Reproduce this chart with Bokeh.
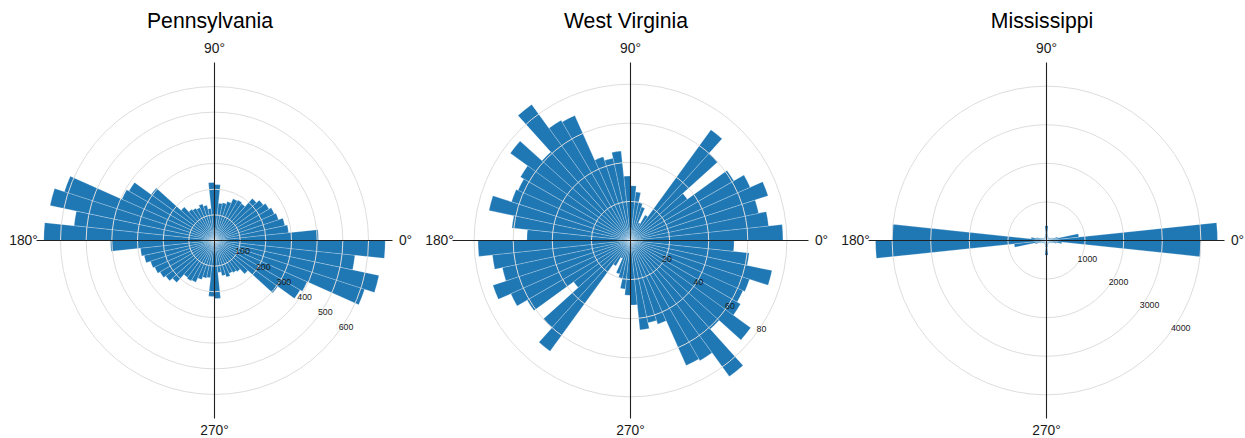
import numpy as np
from bokeh.plotting import figure
from bokeh.layouts import row
from bokeh.models import Range1d
from bokeh.core.properties import value
from bokeh.embed import file_html
from bokeh.resources import INLINE

# ---------------- data ----------------
titles = ["Pennsylvania", "West Virginia", "Mississippi"]

# histogram bins: start angle (degrees), 6 degrees wide, counter-clockwise from east
bin_start_deg = list(range(0, 360, 6))
bin_width_deg = 6

pa_counts = [405, 290, 280, 262, 255, 245, 235, 220, 178, 182, 178, 160, 150, 146, 218,
             226, 125, 140, 150, 140, 145, 150, 175, 305, 385, 395, 615, 655, 550, 665,
             405, 290, 280, 262, 255, 245, 235, 220, 178, 182, 178, 160, 150, 146, 218,
             226, 125, 140, 150, 140, 145, 150, 175, 305, 385, 395, 615, 655, 550, 665]

wv_counts = [78, 71, 67, 74, 67, 61, 36, 60, 70, 15, 10, 18, 20, 25, 28,
             33, 46, 43, 45, 70, 71, 86, 61, 76, 65, 63, 64, 74, 61, 53,
             78, 71, 67, 74, 67, 61, 36, 60, 70, 15, 10, 18, 20, 25, 28,
             33, 46, 43, 45, 70, 71, 86, 61, 76, 65, 63, 64, 74, 61, 53]

ms_counts = [4430, 840, 300, 180, 140, 120, 100, 95, 90, 90, 100, 110, 130, 170, 380,
             380, 170, 130, 110, 100, 95, 90, 90, 100, 110, 130, 170, 260, 400, 4000,
             4430, 840, 300, 180, 140, 120, 100, 95, 90, 90, 100, 110, 130, 170, 380,
             380, 170, 130, 110, 100, 95, 90, 90, 100, 110, 130, 170, 260, 400, 4000]

pa_rings = [100, 200, 300, 400, 500, 600]
wv_rings = [20, 40, 60, 80]
ms_rings = [1000, 2000, 3000, 4000]

theta_tick_deg = [0, 90, 180, 270]
theta_tick_labels = ["0°", "90°", "180°", "270°"]

# ---------------- style ----------------
FONT = "Liberation Sans"
BLUE = "#1f77b4"
TEXT = "#1a1a1a"
GRID = "#dddddd"
RLABEL_DEG = -36.3


def panel(title, counts, rings, px_per_unit, width, cx_px, height=438, cy_px=240,
          theta_radius_px=(191, 192, 191, 190)):
    s = px_per_unit
    p = figure(width=width, height=height, output_backend="svg", toolbar_location=None,
               x_range=Range1d(-cx_px / s, (width - cx_px) / s),
               y_range=Range1d(-(height - cy_px) / s, cy_px / s),
               min_border=0, outline_line_color=None, background_fill_color="white",
               border_fill_color="white")
    p.axis.visible = False
    p.grid.visible = False

    start = np.deg2rad(np.array(bin_start_deg, dtype=float))
    end = np.deg2rad(np.array(bin_start_deg, dtype=float) + bin_width_deg)
    p.wedge(x=0, y=0, radius=counts, start_angle=start, end_angle=end,
            fill_color=BLUE, line_color="white", line_width=0.5, line_alpha=0.45)

    # radial grid circles
    p.circle(x=0, y=0, radius=rings, fill_color=None, line_color=GRID, line_width=1)

    # axis cross lines
    L = 178 / s
    p.segment(x0=[-L, 0], y0=[0, -L], x1=[L, 0], y1=[0, L],
              line_color="#222222", line_width=1.1)

    # theta labels
    tx, ty = [], []
    for deg, rp in zip(theta_tick_deg, theta_radius_px):
        a = np.deg2rad(deg)
        tx.append(rp / s * np.cos(a))
        ty.append(rp / s * np.sin(a))
    p.text(x=tx, y=ty, text=theta_tick_labels, text_font=value(FONT),
           text_font_size="13.8px", text_align="center", text_baseline="middle",
           text_color=TEXT)

    # radial labels
    a = np.deg2rad(RLABEL_DEG)
    rx = [r * np.cos(a) for r in rings]
    ry = [r * np.sin(a) for r in rings]
    p.text(x=rx, y=ry, text=[str(r) for r in rings], text_font=value(FONT),
           text_font_size="8.8px", text_align="left", text_baseline="middle",
           y_offset=-4.3, text_color=TEXT)

    # title
    p.text(x=[-4.5 / s], y=[(cy_px - 19.5) / s], text=[title], text_font=value(FONT),
           text_font_size="21.2px", text_align="center", text_baseline="middle",
           text_color="#000000")
    return p


p1 = panel(titles[0], pa_counts, pa_rings, 0.2567, 422, 214)
p2 = panel(titles[1], wv_counts, wv_rings, 1.955, 416, 208)
p3 = panel(titles[2], ms_counts, ms_rings, 0.0386, 407, 208)

layout = row(p1, p2, p3)
open("out.html", "w").write(file_html(layout, INLINE))
